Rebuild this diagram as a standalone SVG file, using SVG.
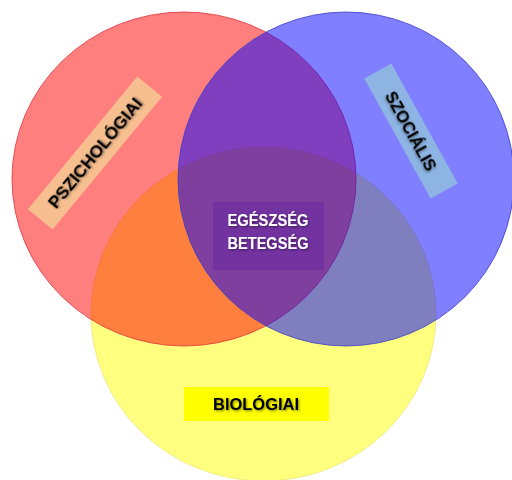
<svg xmlns="http://www.w3.org/2000/svg" width="512" height="480" viewBox="0 0 512 480">
  <defs>
    <filter id="shadow" x="-20%" y="-50%" width="140%" height="200%">
      <feDropShadow dx="1.2" dy="1.2" stdDeviation="0.9" flood-color="#000000" flood-opacity="0.45"/>
    </filter>
    <style>
      .lbl { font-family: "Liberation Sans", Arial, sans-serif; font-weight: bold; font-size: 17px; text-anchor: middle; filter: url(#shadow); }
      .dark { fill: #000000; }
      .light { fill: #ffffff; }
    </style>
  </defs>
  <rect width="512" height="480" fill="#ffffff"/>

  <!-- Biological sphere (bottom) -->
  <g id="biologiai">
    <ellipse cx="263.5" cy="314" rx="172.5" ry="167" fill="#ffff00" fill-opacity="0.5" stroke="#e8e060" stroke-opacity="0.6" stroke-width="1"/>
  </g>

  <!-- Psychological sphere (left) -->
  <g id="pszichologiai">
    <ellipse cx="184" cy="179" rx="172" ry="167" fill="#ff0000" fill-opacity="0.5" stroke="#e0303a" stroke-opacity="0.8" stroke-width="1"/>
  </g>

  <!-- Social sphere (right) -->
  <g id="szocialis">
    <ellipse cx="346" cy="179" rx="168" ry="167" fill="#0000ff" fill-opacity="0.5" stroke="#3a3ac8" stroke-opacity="0.8" stroke-width="1"/>
  </g>

  <!-- Labels -->
  <g id="label-pszichologiai" transform="translate(95 153) rotate(-50.5)">
    <rect x="-86" y="-16" width="172" height="32" fill="#f7bf8f"/>
    <text class="lbl dark" x="0" y="6" textLength="137" lengthAdjust="spacingAndGlyphs">PSZICHOLÓGIAI</text>
  </g>

  <g id="label-szocialis" transform="translate(411 131) rotate(61)">
    <rect x="-68.5" y="-15.5" width="137" height="31" fill="#8db4e2"/>
    <text class="lbl dark" x="0" y="6" textLength="88" lengthAdjust="spacingAndGlyphs">SZOCIÁLIS</text>
  </g>

  <g id="label-center">
    <rect x="213" y="202" width="111" height="68" fill="#7030a0" fill-opacity="0.85"/>
    <text class="lbl light" x="268" y="226" textLength="81" lengthAdjust="spacingAndGlyphs">EGÉSZSÉG</text>
    <text class="lbl light" x="268" y="249" textLength="81" lengthAdjust="spacingAndGlyphs">BETEGSÉG</text>
  </g>

  <g id="label-biologiai">
    <rect x="184" y="387" width="145" height="34" fill="#ffff00"/>
    <text class="lbl dark" x="256" y="410" textLength="86" lengthAdjust="spacingAndGlyphs">BIOLÓGIAI</text>
  </g>
</svg>
